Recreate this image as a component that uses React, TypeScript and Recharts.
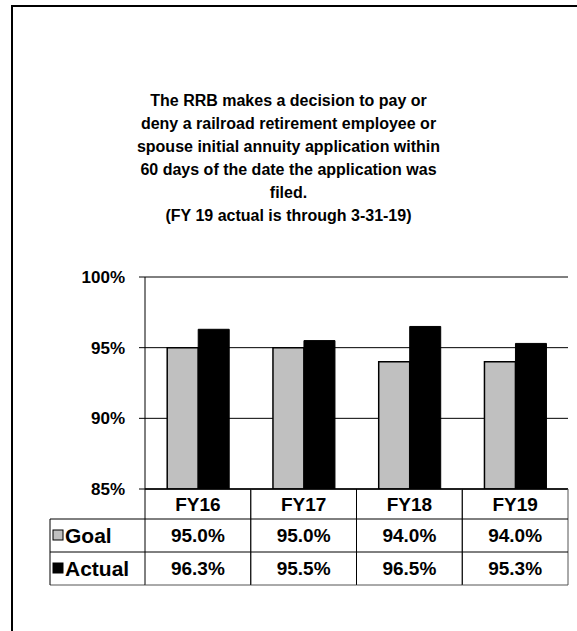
import { BarChart, Bar, XAxis, YAxis, CartesianGrid } from "recharts"

const categories = ["FY16", "FY17", "FY18", "FY19"]
const goalValues = [95.0, 95.0, 94.0, 94.0]
const actualValues = [96.3, 95.5, 96.5, 95.3]
const yTicks = [85, 90, 95, 100]
const seriesNames = ["Goal", "Actual"]
const titleLines = [
  "The RRB makes a decision to pay or",
  "deny a railroad retirement employee or",
  "spouse initial annuity application within",
  "60 days of the date the application was",
  "filed.",
  "(FY 19 actual is through 3-31-19)",
]

const data = categories.map((name, i) => ({
  name,
  goal: goalValues[i],
  actual: actualValues[i],
}))

const FONT = "'Liberation Sans', Arial, Helvetica, sans-serif"
const Y_AXIS_WIDTH = 95
const ROW_H = [30, 33, 33]
const GOAL_FILL = "#c0c0c0"

// x axis tick draws one column of the data table under each category
function TableTick(props: any) {
  const { x, y, payload } = props
  const idx = payload.index ?? props.index ?? 0
  const half = payload.offset || 53
  const left = x - half
  const right = x + half
  const y1 = y + ROW_H[0]
  const y2 = y1 + ROW_H[1]
  const y3 = y2 + ROW_H[2]
  const textStyle = { fontFamily: FONT, fontWeight: "bold" as const, fontSize: 19 }
  const legendStyle = { ...textStyle, fontSize: 21 }
  const lx = left - Y_AXIS_WIDTH

  const legendCol = idx === 0 ? (
    <g>
      <line x1={lx} y1={y1} x2={left} y2={y1} stroke="#000" />
      <line x1={lx} y1={y2} x2={left} y2={y2} stroke="#000" />
      <line x1={lx} y1={y3} x2={left} y2={y3} stroke="#555" />
      <line x1={lx} y1={y1} x2={lx} y2={y3} stroke="#000" />
      <rect x={lx + 3} y={y1 + 11} width={10} height={10} fill={GOAL_FILL} stroke="#000" strokeWidth={1} />
      <text x={lx + 15} y={(y1 + y2) / 2} dy="0.35em" {...legendStyle}>{seriesNames[0]}</text>
      <rect x={lx + 3} y={y2 + 11} width={10} height={10} fill="#000" stroke="#000" strokeWidth={1} />
      <text x={lx + 15} y={(y2 + y3) / 2} dy="0.35em" {...legendStyle}>{seriesNames[1]}</text>
    </g>
  ) : null

  return (
    <g>
      {legendCol}
      <line x1={left} y1={y} x2={left} y2={y3} stroke="#000" />
      <line x1={right} y1={y} x2={right} y2={y3} stroke="#555" />
      <line x1={left} y1={y1} x2={right} y2={y1} stroke="#000" />
      <line x1={left} y1={y2} x2={right} y2={y2} stroke="#000" />
      <line x1={left} y1={y3} x2={right} y2={y3} stroke="#555" />
      <text x={x} y={(y + y1) / 2} dy="0.35em" textAnchor="middle" {...textStyle}>{payload.value}</text>
      <text x={x} y={(y1 + y2) / 2} dy="0.35em" textAnchor="middle" {...textStyle}>{goalValues[idx].toFixed(1)}%</text>
      <text x={x} y={(y2 + y3) / 2} dy="0.35em" textAnchor="middle" {...textStyle}>{actualValues[idx].toFixed(1)}%</text>
    </g>
  )
}

export default function App() {
  return (
    <div style={{ position: "absolute", left: 0, top: 0, width: 577, height: 631, background: "#fff", overflow: "hidden" }}>
      <div style={{ position: "absolute", left: 11, top: 5, width: 700, height: 700, borderLeft: "2px solid #000", borderTop: "2px solid #000" }} />
      <div
        style={{
          position: "absolute",
          left: 0,
          top: 89,
          width: 577,
          textAlign: "center",
          fontFamily: FONT,
          fontWeight: "bold",
          fontSize: 16,
          lineHeight: "23px",
          color: "#000",
        }}
      >
        {titleLines.map((line, i) => (
          <div key={i}>{line}</div>
        ))}
      </div>
      <div style={{ position: "absolute", left: 0, top: 0 }}>
        <BarChart
          width={577}
          height={631}
          data={data}
          margin={{ top: 277, right: 9, bottom: 46, left: 50 }}
          barCategoryGap="21%"
          barGap={0}
        >
          <CartesianGrid horizontal={true} vertical={false} stroke="#000" />
          <XAxis
            dataKey="name"
            height={96}
            axisLine={{ stroke: "#000", strokeWidth: 1.5 }}
            tickLine={false}
            tickSize={0}
            tickMargin={0}
            interval={0}
            tick={<TableTick />}
          />
          <YAxis
            width={Y_AXIS_WIDTH}
            domain={[85, 100]}
            ticks={yTicks}
            allowDataOverflow
            tickFormatter={(v) => `${v}%`}
            axisLine={{ stroke: "#000" }}
            tickLine={{ stroke: "#000" }}
            tickSize={6}
            tickMargin={14}
            tick={{ fill: "#000", fontFamily: FONT, fontWeight: "bold", fontSize: 17 }}
          />
          <YAxis
            yAxisId="right"
            orientation="right"
            width={0}
            domain={[85, 100]}
            tick={false}
            tickLine={false}
            axisLine={{ stroke: "#555" }}
          />
          <Bar dataKey="goal" name={seriesNames[0]} fill={GOAL_FILL} stroke="#000" strokeWidth={1.5} isAnimationActive={false} />
          <Bar dataKey="actual" name={seriesNames[1]} fill="#000" stroke="#000" strokeWidth={1} isAnimationActive={false} />
        </BarChart>
      </div>
    </div>
  )
}
